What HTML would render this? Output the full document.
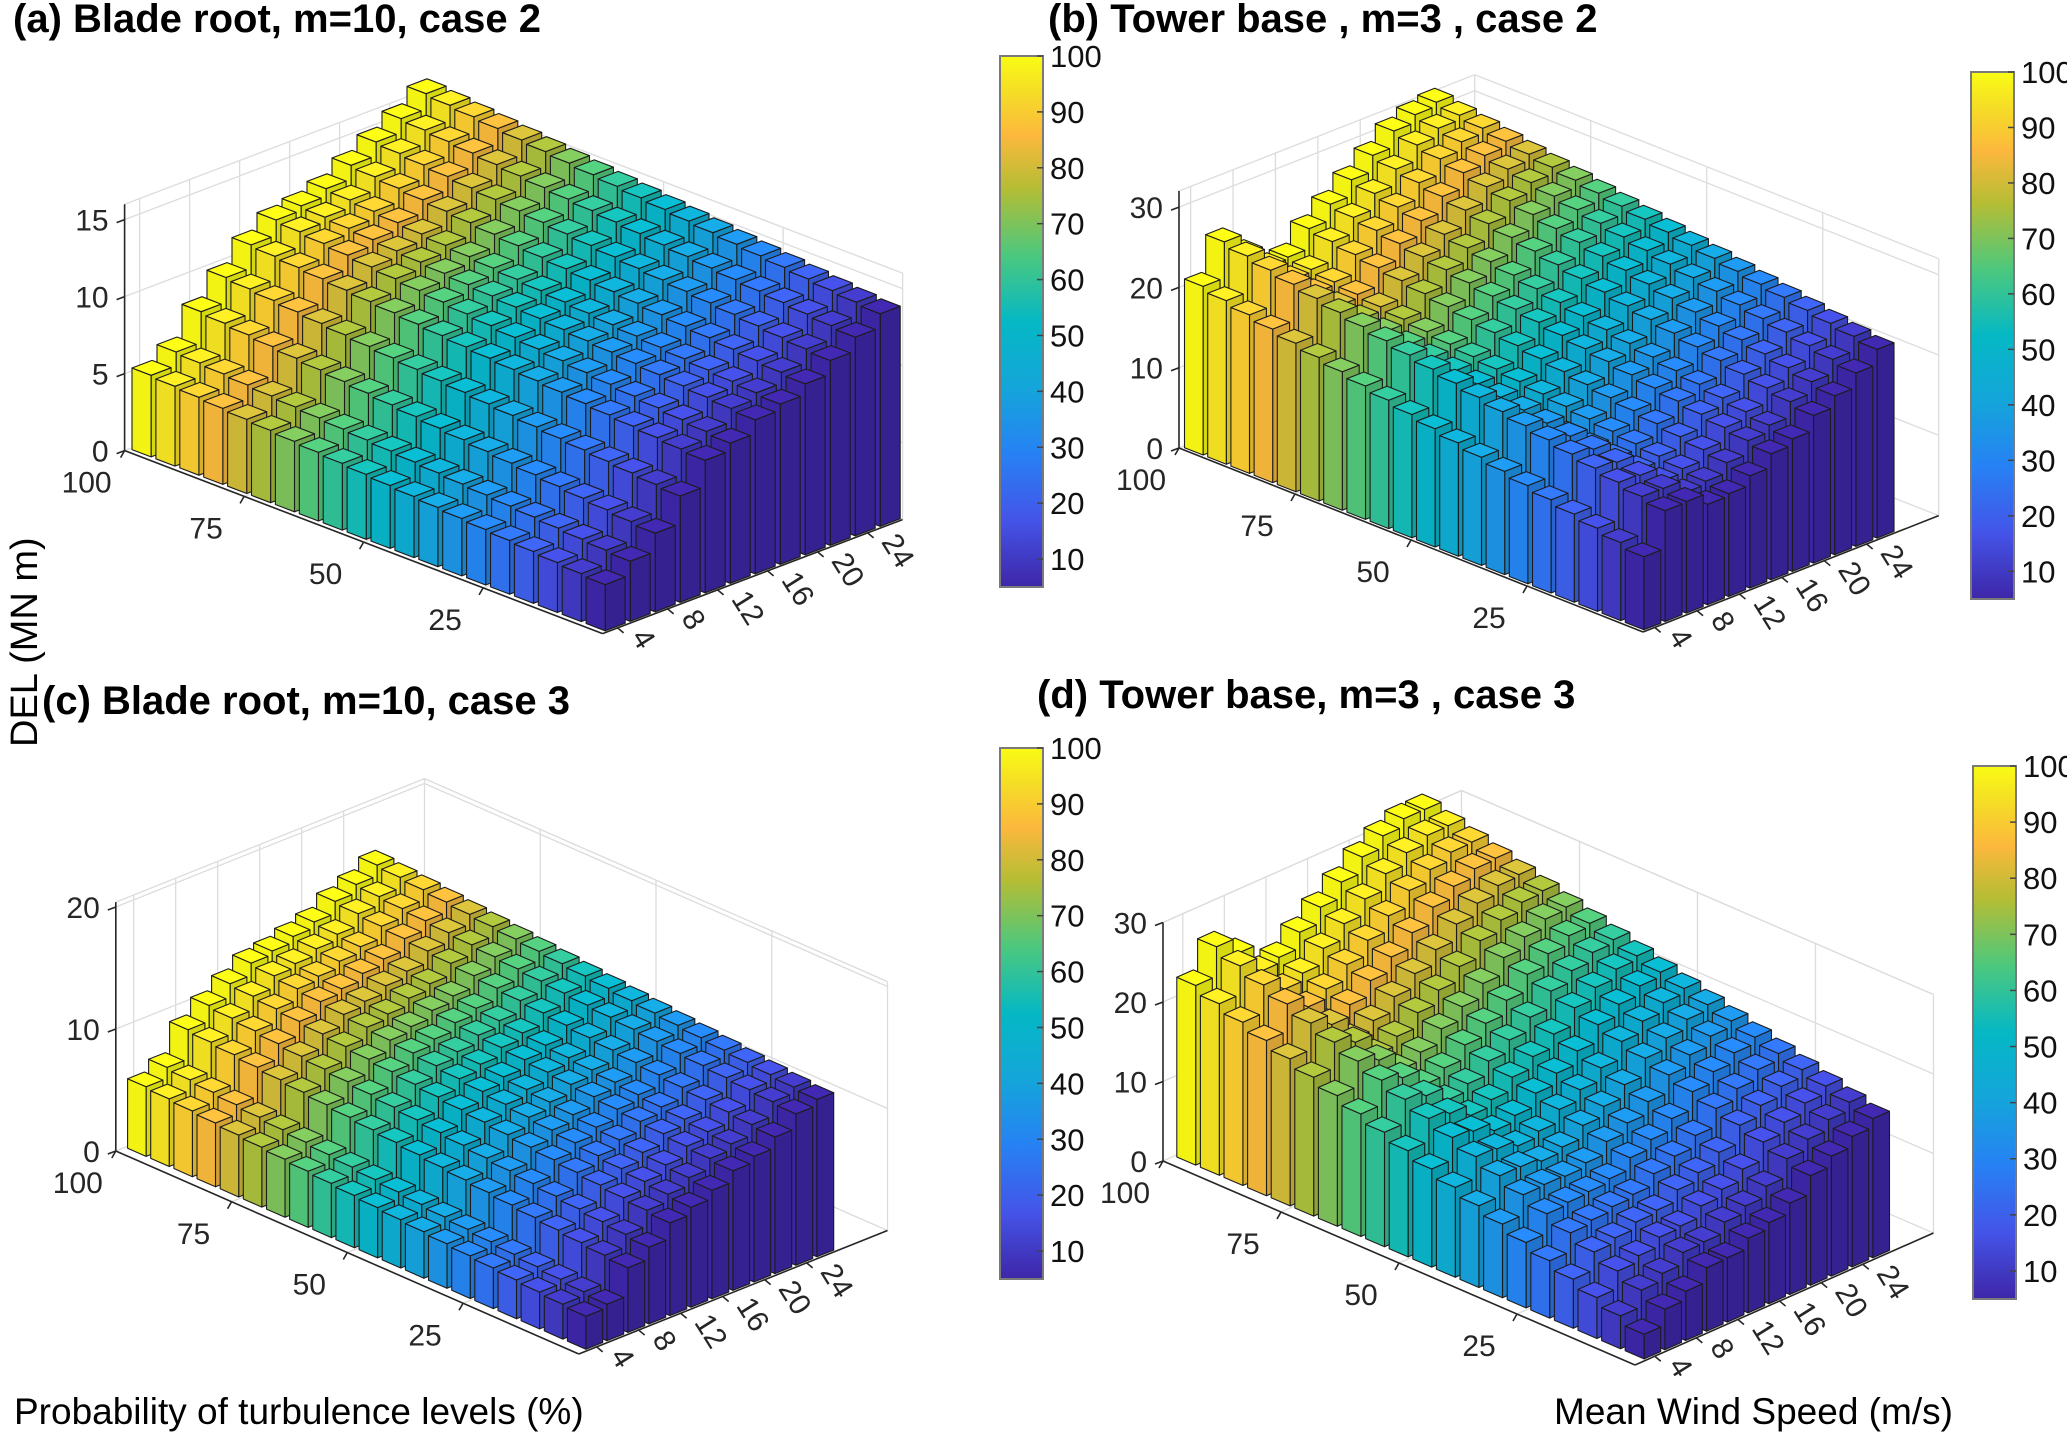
<!DOCTYPE html>
<html><head><meta charset="utf-8"><title>DEL 3D bars</title>
<style>
html,body{margin:0;padding:0;background:#fff;}
svg{display:block;font-family:"Liberation Sans",Arial,sans-serif;}
.ttl{font-weight:bold;font-size:40px;fill:#000;}
.tk{font-size:30px;fill:#262626;}
.cb{font-size:31px;fill:#111;}
.lab{font-size:37px;fill:#000;}
</style></head>
<body>
<svg id="fig" width="2067" height="1434" xmlns="http://www.w3.org/2000/svg">
<defs>
<linearGradient id="parula" x1="0" y1="1" x2="0" y2="0">
<stop offset="0" stop-color="#3e26a8"/>
<stop offset="0.125" stop-color="#4454e8"/>
<stop offset="0.25" stop-color="#2781f4"/>
<stop offset="0.375" stop-color="#14a5da"/>
<stop offset="0.5" stop-color="#05b8c4"/>
<stop offset="0.625" stop-color="#4cc87e"/>
<stop offset="0.75" stop-color="#b4bd34"/>
<stop offset="0.85" stop-color="#fcb83d"/>
<stop offset="0.93" stop-color="#f5dc27"/>
<stop offset="1" stop-color="#f9fb14"/>
</linearGradient>
</defs>
<text class="ttl" x="13" y="32">(a) Blade root, m=10, case 2</text>
<text class="ttl" x="1048" y="32">(b) Tower base , m=3 , case 2</text>
<text class="ttl" x="42" y="714">(c) Blade root, m=10, case 3</text>
<text class="ttl" x="1037" y="708">(d) Tower base, m=3 , case 3</text>
<text class="lab" transform="translate(37,747) rotate(-90)" style="font-size:38px">DEL (MN m)</text>
<text class="lab" x="14" y="1424">Probability of turbulence levels (%)</text>
<text class="lab" x="1554" y="1424">Mean Wind Speed (m/s)</text>
</svg>
<script>
// ---- data ----
const probs = [100,95,90,85,80,75,70,65,60,55,50,45,40,35,30,25,20,15,10,5];
const winds = [4,6,8,10,12,14,16,18,20,22,24,26];
const pTicks = [100,75,50,25];
const wTicks = [4,8,12,16,20,24];
const cbTicks = [10,20,30,40,50,60,70,80,90,100];
// DEL at highest-probability column and lowest-probability column, per wind speed
const aHigh = [5.3,6.2,8.2,9.8,11.3,12.3,12.6,13.1,14.0,14.9,15.8,16.8];
const aLow  = [3.0,3.9,5.1,6.9,8.6,9.1,10.0,10.4,11.1,12.0,12.9,13.8];
const bHigh = [21,25.5,23,18,20.5,23,25,27,29,31,32,32.5];
const bLow  = [9.1,13.8,13.9,12.5,12.8,14,15.7,16.5,18.4,19.8,21.6,23.5];
const cHigh = [5.7,6.6,9.0,10.3,11.4,12.4,12.7,13.2,13.7,14.7,15.4,16.3];
const cLow  = [2.7,3.0,5.3,6.3,7.6,8.2,8.9,9.8,10.3,11.2,12.4,12.9];
const dHigh = [22.6,26.3,24.3,20,21.5,23.5,25.5,27.5,29.5,31,32,32];
const dLow  = [3.1,5.1,6.2,8.0,8.1,9.4,10.2,11.5,13.8,15.1,16.4,17.5];
const aZTicks = [0,5,10,15];
const bZTicks = [0,10,20,30];
const cZTicks = [0,10,20];
const dZTicks = [0,10,20,30];

// ---- layout (geometry only) ----
const NS = "http://www.w3.org/2000/svg";
const svg = document.getElementById('fig');
const panels = [
 {k:'a',hi:aHigh,lo:aLow,zt:aZTicks,x0:124.6,y0:450.6,ax:4.78,ay:1.83,w0:2.8,bx:12.5,by:4.75,zs:15.4,wEnd:26.8,zmax:16,cb:[1000,56,43,531]},
 {k:'b',hi:bHigh,lo:bLow,zt:bZTicks,x0:1179,y0:448,ax:4.64,ay:1.84,w0:2.9,bx:10.6,by:4.17,zs:8.03,wEnd:30.8,zmax:32,cb:[1971,72,43,527]},
 {k:'c',hi:cHigh,lo:cLow,zt:cZTicks,x0:115.8,y0:1151,ax:4.63,ay:2.03,w0:2.3,bx:10.5,by:4.2,zs:12.2,wEnd:31.7,zmax:20.4,cb:[1000,748,43,531]},
 {k:'d',hi:dHigh,lo:dLow,zt:dZTicks,x0:1163,y0:1161,ax:4.72,ay:2.04,w0:2.1,bx:10.4,by:4.6,zs:7.95,wEnd:30.8,zmax:30,cb:[1973,766,43,533]}
];
const cmin = 5, cmax = 100;
const stops = [[0,[62,38,168]],[0.125,[68,84,232]],[0.25,[39,129,244]],[0.375,[20,165,218]],[0.5,[5,184,196]],[0.625,[76,200,126]],[0.75,[180,189,52]],[0.85,[252,184,61]],[0.93,[245,220,39]],[1,[249,251,20]]];
function cmap(v){
  let t = Math.max(0,Math.min(1,(v-cmin)/(cmax-cmin)));
  for(let i=1;i<stops.length;i++){
    if(t<=stops[i][0]){
      const a=stops[i-1],b=stops[i],f=(t-a[0])/(b[0]-a[0]);
      return [0,1,2].map(j=>a[1][j]+(b[1][j]-a[1][j])*f);
    }
  }
  return stops[stops.length-1][1];
}
function rgb(c,s){return 'rgb('+c.map(x=>Math.round(Math.min(255,x*s))).join(',')+')';}
function mkEl(tag,attrs,parent){
  const e=document.createElementNS(NS,tag);
  for(const k in attrs) e.setAttribute(k,attrs[k]);
  parent.appendChild(e);
  return e;
}
function pts(arr){return arr.map(q=>q[0].toFixed(1)+','+q[1].toFixed(1)).join(' ');}

panels.forEach(P=>{
  const proj=(p,w,z)=>[P.x0+(100-p)*P.ax+(w-P.w0)*P.bx, P.y0+(100-p)*P.ay-(w-P.w0)*P.by-z*P.zs];
  const G = mkEl('g',{},svg);
  
  
  const grid = mkEl('g',{stroke:'#dcdcdc','stroke-width':1.3,fill:'none'},G);
  
  
  const line=(a,b,par)=>mkEl('line',{x1:a[0],y1:a[1],x2:b[0],y2:b[1]},par);
  P.zt.forEach(z=>{
    line(proj(100,P.w0,z),proj(100,P.wEnd,z),grid);
    line(proj(100,P.wEnd,z),proj(0,P.wEnd,z),grid);
  });
  line(proj(100,P.w0,P.zmax),proj(100,P.wEnd,P.zmax),grid);
  line(proj(100,P.wEnd,P.zmax),proj(0,P.wEnd,P.zmax),grid);
  line(proj(0,P.wEnd,0),proj(0,P.wEnd,P.zmax),grid);
  wTicks.forEach(w=>{ line(proj(100,w,0),proj(100,w,P.zmax),grid); line(proj(100,w,0),proj(0,w,0),grid); });
  [75,50,25].forEach(p=>{ line(proj(p,P.wEnd,0),proj(p,P.wEnd,P.zmax),grid); line(proj(p,P.w0,0),proj(p,P.wEnd,0),grid); });
  line(proj(100,P.wEnd,0),proj(100,P.wEnd,P.zmax),grid);
  const bars = mkEl('g',{stroke:'#1c1c1c','stroke-width':1.1,'stroke-linejoin':'round'},G);
  
  
  for(let j=winds.length-1;j>=0;j--){
    for(let i=0;i<probs.length;i++){
      const t=(probs[i]-5)/95;
      const h=P.lo[j]+(P.hi[j]-P.lo[j])*t;
      const pc=probs[i]-2.5, p0=pc-2, p1=pc+2;
      const wa=winds[j]-0.8, wb=winds[j]+0.8;
      const col=cmap(probs[i]);
      const bg=mkEl('g',{},bars);
      
      
      mkEl('polygon',{points:pts([proj(p0,wa,0),proj(p0,wb,0),proj(p0,wb,h),proj(p0,wa,h)]),fill:rgb(col,0.86)},bg);
      mkEl('polygon',{points:pts([proj(p1,wa,0),proj(p0,wa,0),proj(p0,wa,h),proj(p1,wa,h)]),fill:rgb(col,0.97)},bg);
      mkEl('polygon',{points:pts([proj(p1,wa,h),proj(p0,wa,h),proj(p0,wb,h),proj(p1,wb,h)]),fill:rgb(col,1.06)},bg);
    }
  }
  const ax = mkEl('g',{stroke:'#262626','stroke-width':1.6},G);
  
  
  line(proj(100,P.w0,0),proj(100,P.w0,P.zmax),ax);
  line(proj(100,P.w0,0),proj(0,P.w0,0),ax);
  line(proj(0,P.w0,0),proj(0,P.wEnd,0),ax);
  P.zt.forEach(z=>{
    const q=proj(100,P.w0,z);
    line(q,[q[0]-8,q[1]+3],ax);
    const tx=mkEl('text',{x:q[0]-16,y:q[1]+11,'text-anchor':'end',class:'tk'},G);
    tx.textContent=String(z);
    
    
  });
  pTicks.forEach(p=>{
    const q=proj(p,P.w0,0);
    line(q,[q[0]-4,q[1]+7],ax);
    const tx=mkEl('text',{x:q[0]-38,y:q[1]+42,'text-anchor':'middle',class:'tk'},G);
    tx.textContent=String(p);
    
    
  });
  wTicks.forEach(w=>{
    const q=proj(0,w,0);
    line(q,[q[0]+6,q[1]+5],ax);
    const tx=mkEl('text',{x:0,y:0,class:'tk',transform:'translate('+(q[0]+13)+','+(q[1]+9)+') rotate(58)'},G);
    tx.textContent=String(w);
    
    
  });
  const [cx,cy,cw,ch]=P.cb;
  const cbr=mkEl('rect',{x:cx,y:cy,width:cw,height:ch,fill:'url(#parula)',stroke:'#7a7a7a','stroke-width':2},G);
  
  
  cbTicks.forEach(v=>{
    const y=cy+ch-(v-cmin)/(cmax-cmin)*ch;
    mkEl('line',{x1:cx+cw-6,y1:y,x2:cx+cw,y2:y,stroke:'#444','stroke-width':1.5},G);
    const tx=mkEl('text',{x:cx+cw+7,y:y+11,class:'cb'},G);
    tx.textContent=String(v);
    
    
  });
});
</script>
</body></html>
